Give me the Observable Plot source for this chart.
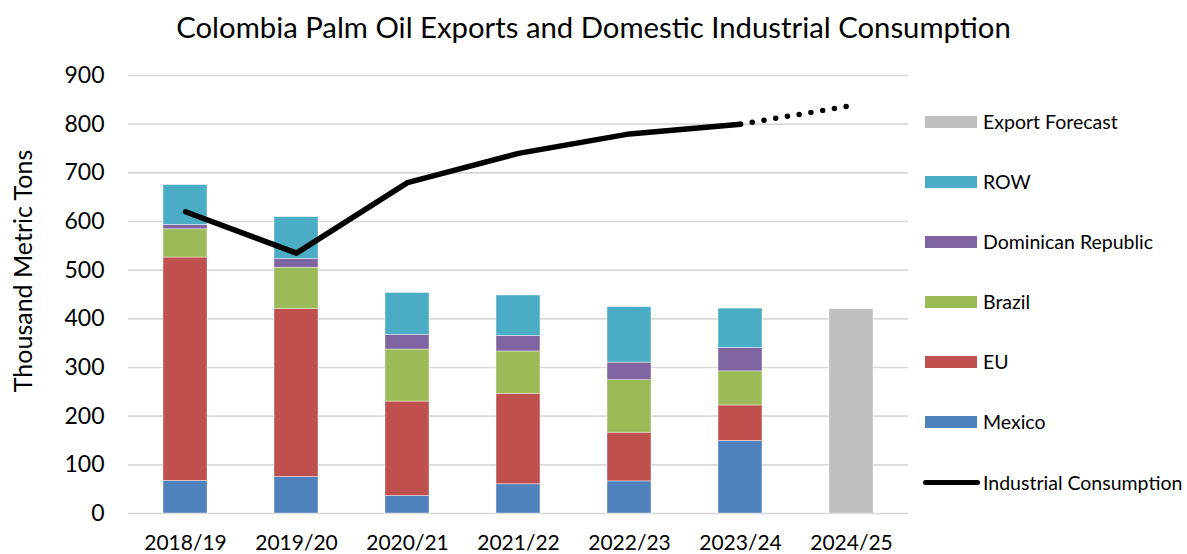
<!DOCTYPE html>
<html>
<head>
<meta charset="utf-8">
<script src="https://cdn.jsdelivr.net/npm/d3@7"></script>
<script src="https://cdn.jsdelivr.net/npm/@observablehq/plot@0.6"></script>
<style>
  html, body { margin: 0; padding: 0; background: #fff; }
  body { font-family: Lato, "Noto Sans", sans-serif; color: #000; }
  #wrap { position: relative; width: 1187px; height: 554px; overflow: hidden; }
  #title { position: absolute; left: 0; top: 7px; width: 1187px; text-align: center; font-size: 29.3px; line-height: 40px; }
  #chart { position: absolute; left: 0; top: 50px; }
  #ylabel { position: absolute; left: 22px; top: 271px; transform: translate(-50%, -50%) rotate(-90deg); white-space: nowrap; font-size: 25px; }
  .leg { position: absolute; left: 925px; height: 26px; display: flex; align-items: center; transform: translateY(-50%); font-size: 19.5px; white-space: nowrap; }
  .sw { width: 52px; height: 12px; margin-right: 6px; }
  .ln { width: 57px; height: 5px; border-radius: 3px; background: #000; margin-left: -2px; margin-right: 3px; }
</style>
</head>
<body>
<div id="wrap">
  <div id="title"></div>
  <div id="chart"></div>
  <div id="ylabel"></div>
  <div id="legend"></div>
</div>
<script>
const titleText = "Colombia Palm Oil Exports and Domestic Industrial Consumption";
const yLabel = "Thousand Metric Tons";
const years = ["2018/19", "2019/20", "2020/21", "2021/22", "2022/23", "2023/24", "2024/25"];
const seriesNames = ["Mexico", "EU", "Brazil", "Dominican Republic", "ROW", "Export Forecast"];
const seriesColors = ["#4F81BD", "#C0504D", "#9BBB59", "#8064A2", "#4BACC6", "#BFBFBF"];
const mexico = [67, 75, 36, 60, 66, 149, 0];
const eu = [459, 345, 194, 186, 100, 73, 0];
const brazil = [58, 85, 107, 87, 108, 70, 0];
const dominicanRepublic = [9, 18, 30, 32, 36, 48, 0];
const row = [82, 86, 86, 83, 114, 81, 0];
const exportForecast = [0, 0, 0, 0, 0, 0, 420];
const industrialConsumption = [620, 535, 680, 740, 780, 800, 838];
const lineName = "Industrial Consumption";
const yTicks = [0, 100, 200, 300, 400, 500, 600, 700, 800, 900];
const legendOrder = ["Export Forecast", "ROW", "Dominican Republic", "Brazil", "EU", "Mexico"];

const seriesValues = [mexico, eu, brazil, dominicanRepublic, row, exportForecast];
const bars = [];
years.forEach((y, i) => {
  seriesNames.forEach((s, j) => {
    const v = seriesValues[j][i];
    if (v > 0) bars.push({year: y, series: s, value: v});
  });
});
const linePts = years.map((y, i) => ({year: y, value: industrialConsumption[i]}));
const solidPts = linePts.slice(0, 6);
const dottedPts = linePts.slice(5);

document.getElementById("title").textContent = titleText;
document.getElementById("ylabel").textContent = yLabel;

const chart = Plot.plot({
  width: 1187,
  height: 504,
  marginLeft: 128,
  marginRight: 279,
  marginTop: 25,
  marginBottom: 41,
  style: {fontFamily: "Lato, 'Noto Sans', sans-serif", color: "#000", background: "#fff"},
  x: {type: "band", domain: years, paddingInner: 0.6, paddingOuter: 0.3, label: null},
  y: {domain: [0, 900], label: null},
  color: {domain: seriesNames, range: seriesColors, legend: false},
  marks: [
    Plot.gridY(yTicks, {stroke: "#d9d9d9", strokeOpacity: 1, strokeWidth: 1.6}),
    Plot.barY(bars, {x: "year", y: "value", fill: "series", order: seriesNames, stroke: "#ffffff", strokeWidth: 0.7, strokeOpacity: 0.6}),
    Plot.line(solidPts, {x: "year", y: "value", stroke: "#000", strokeWidth: 5.5, strokeLinejoin: "round", strokeLinecap: "round"}),
    Plot.line(dottedPts, {x: "year", y: "value", stroke: "#000", strokeWidth: 5.5, strokeLinecap: "round", strokeDasharray: "0,11.9"}),
    Plot.axisY(yTicks, {tickSize: 0, tickPadding: 24, fontSize: 23, label: null}),
    Plot.axisX({tickSize: 0, tickPadding: 22, fontSize: 21, label: null})
  ]
});
document.getElementById("chart").appendChild(chart);

const legend = document.getElementById("legend");
legendOrder.forEach((name, i) => {
  const d = document.createElement("div");
  d.className = "leg";
  d.style.top = (121.7 + 60.05 * i) + "px";
  const sw = document.createElement("div");
  sw.className = "sw";
  sw.style.background = seriesColors[seriesNames.indexOf(name)];
  const t = document.createElement("span");
  t.textContent = name;
  d.appendChild(sw); d.appendChild(t);
  legend.appendChild(d);
});
const dl = document.createElement("div");
dl.className = "leg";
dl.style.top = (121.7 + 60.05 * 6) + "px";
const ln = document.createElement("div");
ln.className = "ln";
const lt = document.createElement("span");
lt.textContent = lineName;
dl.appendChild(ln); dl.appendChild(lt);
legend.appendChild(dl);
</script>
</body>
</html>
